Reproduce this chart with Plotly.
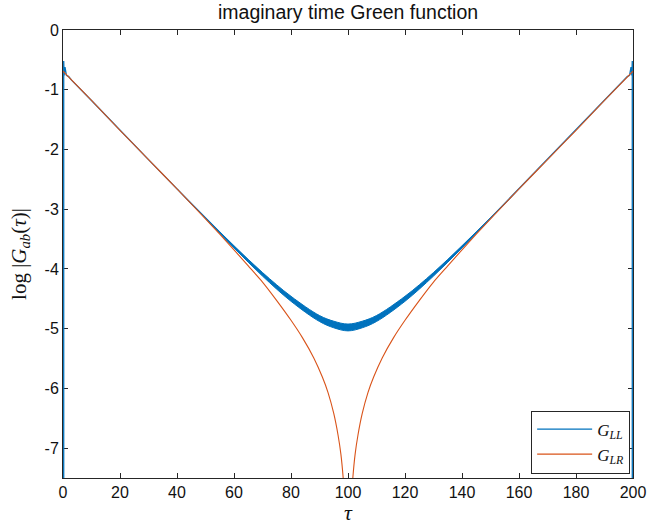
import plotly.graph_objects as go

# ---- data ----
tau_lr = [0, 10, 20, 30, 40, 50, 60, 65, 70, 75, 80, 84, 88, 91, 93, 95, 96.5, 97.5, 98.5, 99.2, 99.7, 100,
          100.3, 100.8, 101.5, 102.5, 103.5, 105, 107, 109, 112, 116, 120, 125, 130, 135, 140, 150, 160, 170, 180, 190, 200]
g_lr = [-0.69, -1.18, -1.68, -2.17, -2.66, -3.16, -3.68, -3.95, -4.22, -4.53, -4.86, -5.15, -5.49, -5.81, -6.07, -6.42,
        -6.78, -7.10, -7.62, -8.25, -9.20, -12.0, -9.20, -8.25, -7.62, -7.10, -6.78, -6.42, -6.07, -5.81, -5.49, -5.15,
        -4.86, -4.53, -4.22, -3.95, -3.68, -3.16, -2.66, -2.17, -1.68, -1.18, -0.69]

tau_ll = [0.25, 0.25, 0.4, 0.7, 1.2, 2, 3, 10, 20, 30, 40, 50, 60, 65, 70, 75, 80, 85, 90, 95, 100, 105, 110, 115, 120,
          125, 130, 135, 140, 150, 160, 170, 180, 190, 197, 198, 198.8, 199.3, 199.6, 199.75, 199.75]
g_ll = [-20, -0.52, -0.76, -0.62, -0.76, -0.78, -0.84, -1.18, -1.68, -2.17, -2.66, -3.15, -3.63, -3.86, -4.09, -4.31,
        -4.50, -4.68, -4.83, -4.93, -4.98, -4.93, -4.83, -4.68, -4.50, -4.31, -4.09, -3.86, -3.63, -3.15, -2.66, -2.17,
        -1.68, -1.18, -0.84, -0.78, -0.76, -0.62, -0.76, -0.52, -20]

# oscillation band of G_LL (centre and half-width)
band_tau = [40, 50, 60, 70, 80, 90, 95, 100, 105, 110, 120, 130, 140, 150, 160]
band_center = [-2.66, -3.15, -3.63, -4.09, -4.50, -4.83, -4.93, -4.98, -4.93, -4.83, -4.50, -4.09, -3.63, -3.15, -2.66]
band_half = [0.0, 0.008, 0.018, 0.03, 0.042, 0.05, 0.055, 0.057, 0.055, 0.05, 0.042, 0.03, 0.018, 0.008, 0.0]

x_ticks = [0, 20, 40, 60, 80, 100, 120, 140, 160, 180, 200]
y_ticks = [0, -1, -2, -3, -4, -5, -6, -7]

BLUE = "#0072BD"
RED = "#D95319"
AX = "#262626"

band_lo = [c - h for c, h in zip(band_center, band_half)]
band_hi = [c + h for c, h in zip(band_center, band_half)]

fig = go.Figure()
fig.add_trace(go.Scatter(x=band_tau, y=band_lo, mode="lines", line=dict(color=BLUE, width=1, shape="spline"),
                         showlegend=False, hoverinfo="skip"))
fig.add_trace(go.Scatter(x=band_tau, y=band_hi, mode="lines", line=dict(color=BLUE, width=1, shape="spline"),
                         fill="tonexty", fillcolor=BLUE, showlegend=False, hoverinfo="skip"))
fig.add_trace(go.Scatter(x=tau_ll, y=g_ll, mode="lines", name="<i>G</i><sub><i>LL</i></sub>",
                         line=dict(color=BLUE, width=1.3)))
fig.add_trace(go.Scatter(x=tau_lr, y=g_lr, mode="lines", name="<i>G</i><sub><i>LR</i></sub>",
                         line=dict(color=RED, width=1.1, shape="spline", smoothing=0.6)))

axis_common = dict(showline=True, linecolor=AX, linewidth=1, mirror="ticks", ticks="inside", ticklen=5,
                   tickcolor=AX, tickwidth=1, showgrid=False, zeroline=False, layer="below traces",
                   automargin=False,
                   tickfont=dict(family="Liberation Sans, Arial, sans-serif", size=16, color="#111111"))

fig.update_xaxes(range=[0, 200], tickvals=x_ticks, ticktext=[str(v) for v in x_ticks],
                 title=dict(text="<i>τ</i>", font=dict(family="Liberation Serif, serif", size=22, color="#111111"),
                            standoff=5), **axis_common)
fig.update_yaxes(range=[-7.5, 0], tickvals=y_ticks, ticktext=[str(v) for v in y_ticks],
                 title=dict(text="log |<i>G</i><sub><i>ab</i></sub>(<i>τ</i>)|",
                            font=dict(family="Liberation Serif, serif", size=21, color="#111111"), standoff=12),
                 **axis_common)

fig.update_layout(
    width=647, height=525,
    margin=dict(l=63, r=14, t=30, b=47),
    plot_bgcolor="white", paper_bgcolor="white",
    title=dict(text="imaginary time Green function", x=0.538, xanchor="center", y=0.977, yanchor="middle",
               yref="container", font=dict(family="Liberation Sans, Arial, sans-serif", size=19.5, color="#111111")),
    legend=dict(x=0.995, xanchor="right", y=0.01, yanchor="bottom", bgcolor="white", bordercolor=AX,
                borderwidth=1, font=dict(family="Liberation Serif, serif", size=17, color="#111111"),
                itemwidth=55, tracegroupgap=0, traceorder="normal"),
)

fig.write_html("out.html")
